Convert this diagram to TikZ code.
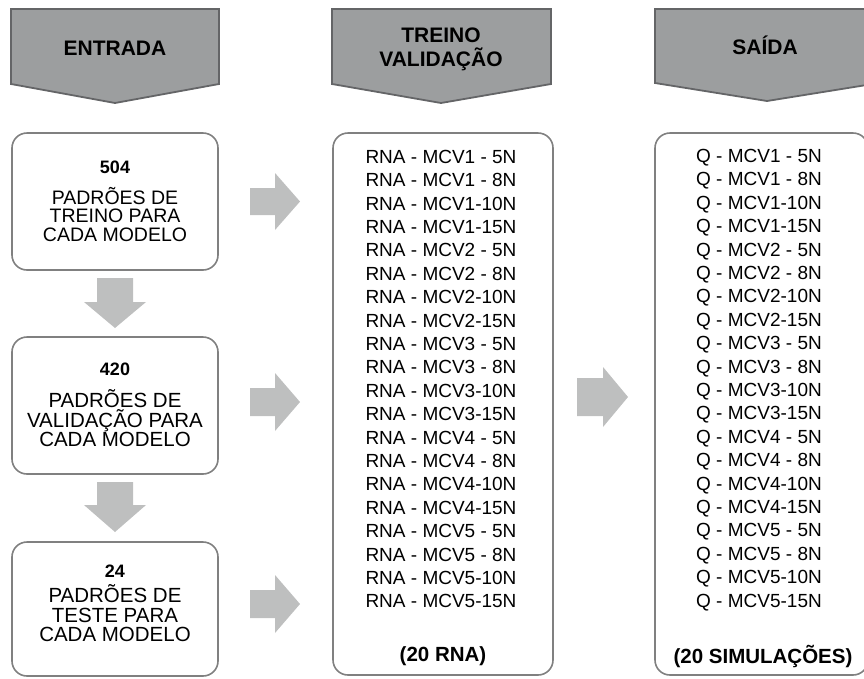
\documentclass[tikz,border=0pt]{standalone}
\usepackage{fontspec}
\setmainfont{Liberation Sans}
\definecolor{hdrfill}{HTML}{9C9E9F}
\definecolor{hdrline}{HTML}{646567}
\definecolor{boxline}{HTML}{808080}
\definecolor{arrfill}{HTML}{BEBFBF}
\begin{document}
\begin{tikzpicture}[x=1pt,y=-1pt,
  hdr/.style={fill=hdrfill,draw=hdrline,line width=1.8pt,line join=miter},
  hdrtxt/.style={font=\fontsize{21}{24}\bfseries\selectfont,align=center,inner sep=0pt},
  box/.style={draw=boxline,line width=1.6pt,rounded corners=15pt,fill=white,inner sep=0pt},
  blk/.style={fill=arrfill,draw=none},
  listtxt/.style={font=\fontsize{19}{23.4}\selectfont,align=center,inner sep=0pt},
  numtxt/.style={font=\fontsize{18}{20}\bfseries\selectfont,inner sep=0pt},
  inA/.style={font=\fontsize{19.5}{18.6}\selectfont,align=center,inner sep=0pt},
  inB/.style={font=\fontsize{20.5}{19.5}\selectfont,align=center,inner sep=0pt},
  sumtxt/.style={font=\fontsize{20.5}{24}\bfseries\selectfont,inner sep=0pt}]
\useasboundingbox (0,0) rectangle (864,678);

% headers
\draw[hdr] (11,9) -- (219,9) -- (219,84) -- (115,103) -- (11,84) -- cycle;
\draw[hdr] (332,9) -- (551,9) -- (551,84) -- (441,103) -- (332,84) -- cycle;
\draw[hdr] (655,9) -- (879,9) -- (879,83) -- (767,101) -- (655,83) -- cycle;
\node[hdrtxt] (h1) at (115,48) {ENTRADA};
\node[hdrtxt] (h2) at (441,49) {TREINO\\VALIDAÇÃO};
\node[hdrtxt] (h3) at (765,45) {SAÍDA};

% boxes
\node[box,minimum width=206pt,minimum height=137pt] (b1) at (115,201.5) {};
\node[box,minimum width=206pt,minimum height=137pt] (b2) at (115,405.5) {};
\node[box,minimum width=206pt,minimum height=134pt] (b3) at (115,609) {};
\node[box,minimum width=220pt,minimum height=542pt] (mid) at (443,404) {};
\node[box,minimum width=213pt,minimum height=542pt] (out) at (761.5,404) {};

% left box texts
\node[numtxt] (n1) at (115,167.5) {504};
\node[inA] (t1) at (115,214.5) {PADRÕES DE\\TREINO PARA\\CADA MODELO};
\node[numtxt] (n2) at (115,369) {420};
\node[inB] (t2) at (115,418.5) {PADRÕES DE\\VALIDAÇÃO PARA\\CADA MODELO};
\node[numtxt] (n3) at (115,571.5) {24};
\node[inB] (t3) at (115,613.5) {PADRÕES DE\\TESTE PARA\\CADA MODELO};

% lists
\node[listtxt] (l1) at (441,379) {RNA - MCV1 - 5N\\RNA - MCV1 - 8N\\RNA - MCV1-10N\\RNA - MCV1-15N\\RNA - MCV2 - 5N\\RNA - MCV2 - 8N\\RNA - MCV2-10N\\RNA - MCV2-15N\\RNA - MCV3 - 5N\\RNA - MCV3 - 8N\\RNA - MCV3-10N\\RNA - MCV3-15N\\RNA - MCV4 - 5N\\RNA - MCV4 - 8N\\RNA - MCV4-10N\\RNA - MCV4-15N\\RNA - MCV5 - 5N\\RNA - MCV5 - 8N\\RNA - MCV5-10N\\RNA - MCV5-15N};
\node[listtxt] (l2) at (759,380) {Q - MCV1 - 5N\\Q - MCV1 - 8N\\Q - MCV1-10N\\Q - MCV1-15N\\Q - MCV2 - 5N\\Q - MCV2 - 8N\\Q - MCV2-10N\\Q - MCV2-15N\\Q - MCV3 - 5N\\Q - MCV3 - 8N\\Q - MCV3-10N\\Q - MCV3-15N\\Q - MCV4 - 5N\\Q - MCV4 - 8N\\Q - MCV4-10N\\Q - MCV4-15N\\Q - MCV5 - 5N\\Q - MCV5 - 8N\\Q - MCV5-10N\\Q - MCV5-15N};
\node[sumtxt] (s1) at (443,656) {(20 RNA)};
\node[sumtxt] (s2) at (763,656) {(20 SIMULAÇÕES)};

% block arrows: left column to middle
\fill[blk] (250,188) -- (275,188) -- (275,173) -- (300,201.5) -- (275,230) -- (275,215) -- (250,215) -- cycle;
\fill[blk] (250,388) -- (275,388) -- (275,373) -- (300,402) -- (275,431) -- (275,416) -- (250,416) -- cycle;
\fill[blk] (250,590) -- (275,590) -- (275,575) -- (300,604) -- (275,633) -- (275,618) -- (250,618) -- cycle;
% middle to right
\fill[blk] (577,378) -- (603,378) -- (603,367) -- (628,397) -- (603,427) -- (603,416) -- (577,416) -- cycle;
% down arrows
\fill[blk] (97,278) -- (133,278) -- (133,302) -- (146,302) -- (115,328) -- (84,302) -- (97,302) -- cycle;
\fill[blk] (97,482) -- (133,482) -- (133,505) -- (146,505) -- (115,532) -- (84,505) -- (97,505) -- cycle;
\end{tikzpicture}
\end{document}
